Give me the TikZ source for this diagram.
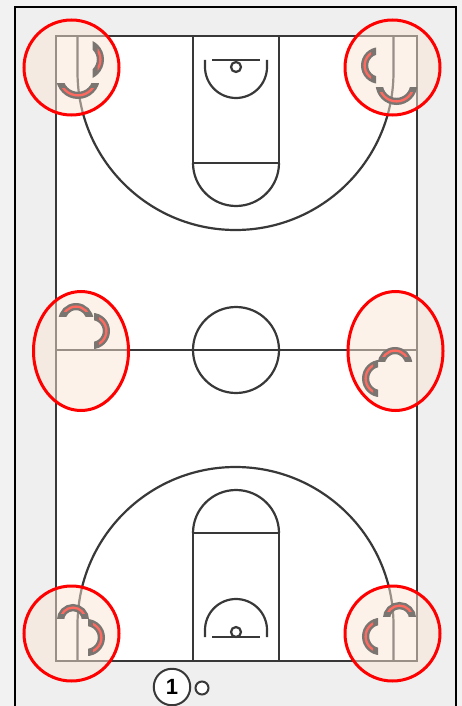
\documentclass[tikz,border=0pt]{standalone}
\usepackage{fontspec}
\setmainfont{Liberation Sans}
\definecolor{bgout}{HTML}{F2F2F2}
\definecolor{bgin}{HTML}{EFEFEF}
\definecolor{courtline}{HTML}{383838}
\definecolor{zonefill}{RGB}{250,230,215}
\definecolor{zonered}{HTML}{FF0000}
\definecolor{guardgray}{HTML}{7A7570}
\definecolor{guardred}{HTML}{FF6A60}
\tikzset{
  courtstroke/.style={draw=courtline,line width=2.2pt},
  zone/.style={fill=zonefill,fill opacity=.5,draw=zonered,draw opacity=1,line width=3pt},
}
% #1,#2 chord middle; #3 rotation; #4 half chord; #5 height of the outer arc
\newcommand{\guardarc}[5]{%
  \begin{scope}[shift={(#1,#2)},rotate=#3]
    \pgfmathsetmacro{\gR}{(#4*#4+#5*#5)/(2*#5)}
    \pgfmathsetmacro{\gC}{\gR-#5}
    \pgfmathsetmacro{\gM}{\gR-3.6}
    \begin{scope}
      \clip (-45,0) rectangle (45,45);
      \draw[guardgray,line width=7.2pt] (0,-\gC) circle [radius=\gM pt];
    \end{scope}
    \begin{scope}
      \clip (-45,5) rectangle (45,45);
      \draw[guardred,line width=2.3pt] (0,-\gC) circle [radius=\gM pt];
    \end{scope}
  \end{scope}}
\begin{document}
\begin{tikzpicture}[x=1pt,y=-1pt]
\useasboundingbox (0,0) rectangle (462,706);
\fill[bgout] (0,0) rectangle (462,706);
\fill[bgin] (15,7) rectangle (456,706);
\draw[black,line width=2pt] (15,706) -- (15,7) -- (456,7) -- (456,706);
% court
\fill[white] (56,36) rectangle (417,661);
\draw[courtstroke] (56,36) rectangle (417,661);
\draw[courtstroke] (56,350) -- (417,350);
\draw[courtstroke] (236,350) circle [radius=43pt];
% top half
\draw[courtstroke] (193,36) -- (193,163) (279,36) -- (279,163) (193,163) -- (279,163);
\draw[courtstroke] (193,163) arc [start angle=180,end angle=360,radius=43pt];
\draw[courtstroke] (77.5,36) -- (77.5,72) arc [start angle=180,end angle=360,radius=158pt] -- (393.5,36);
\draw[courtstroke] (205,60) -- (205,67) arc [start angle=180,end angle=360,radius=31pt] -- (267,60);
\draw[courtstroke] (212,60) -- (260,60);
\draw[courtstroke] (236,67) circle [radius=5pt];
% bottom half
\draw[courtstroke] (193,661) -- (193,533) (279,661) -- (279,533) (193,533) -- (279,533);
\draw[courtstroke] (193,533) arc [start angle=180,end angle=0,radius=43pt];
\draw[courtstroke] (77.5,661) -- (77.5,625) arc [start angle=180,end angle=0,radius=158pt] -- (393.5,661);
\draw[courtstroke] (205,637) -- (205,630) arc [start angle=180,end angle=0,radius=31pt] -- (267,637);
\draw[courtstroke] (212,637) -- (260,637);
\draw[courtstroke] (236,632) circle [radius=5pt];
% zones
\draw[zone] (71.5,67.5) circle [radius=47.5pt];
\draw[zone] (392.5,67.5) circle [radius=47.5pt];
\draw[zone] (81,351) ellipse [x radius=47.5pt,y radius=59.5pt];
\draw[zone] (395.5,351) ellipse [x radius=47.5pt,y radius=59.5pt];
\draw[zone] (71.5,633.5) circle [radius=47.5pt];
\draw[zone] (392.5,633.5) circle [radius=47.5pt];
% guards
\guardarc{92.5}{59.5}{90}{18.5}{11.5}
\guardarc{78}{83.5}{0}{21}{15.5}
\guardarc{376}{65.5}{-90}{18}{15}
\guardarc{396.5}{88}{0}{20.5}{17}
\guardarc{76}{316}{180}{17}{13}
\guardarc{94}{331}{90}{18}{16}
\guardarc{395}{361}{180}{17}{14}
\guardarc{378}{378.5}{-90}{18.5}{16}
\guardarc{73}{618}{180}{16}{14}
\guardarc{88}{637.5}{90}{18.5}{17}
\guardarc{399.5}{616}{180}{16.5}{14}
\guardarc{378}{636.5}{-90}{18.5}{16}
% player and ball
\node[circle,draw=courtline,line width=2pt,fill=white,minimum size=36.5pt,inner sep=0pt,font=\bfseries\fontsize{22}{22}\selectfont] (player) at (172,687) {1};
\node[circle,draw=courtline,line width=2pt,fill=white,minimum size=13pt,inner sep=0pt] (ball) at (202,688) {};
\end{tikzpicture}
\end{document}
